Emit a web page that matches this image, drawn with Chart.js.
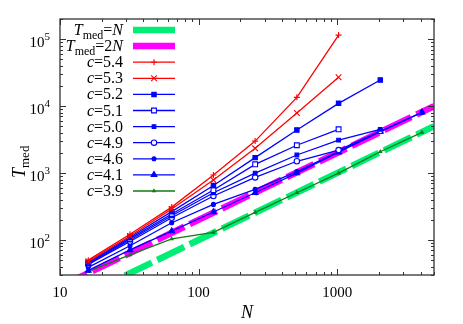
<!DOCTYPE html>
<html>
<head>
<meta charset="utf-8">
<script src="https://cdn.jsdelivr.net/npm/chart.js@4.4.1/dist/chart.umd.min.js"></script>
<style>
  html, body { margin: 0; padding: 0; background: #ffffff; }
  #grafico { display: block; }
</style>
</head>
<body>
<canvas id="grafico" width="463" height="324"></canvas>
<script>
// Tamaños del sistema (eje x) y tiempos medianos de cada curva
const tamanos = [16, 32, 64, 128, 256, 512, 1024, 2048, 4096];
const valoresC = ['5.4', '5.3', '5.2', '5.1', '5.0', '4.9', '4.6', '4.1', '3.9'];
const tMed54 = [50, 122, 310, 935, 3000, 13500, 115000];
const tMed53 = [48, 115, 290, 785, 2340, 7900, 27000];
const tMed52 = [46, 110, 265, 650, 1700, 4400, 11000, 24500];
const tMed51 = [45, 105, 245, 557, 1350, 2600, 4500];
const tMed50 = [44, 100, 230, 508, 1000, 1860, 3100, 4500];
const tMed49 = [43, 95, 215, 454, 860, 1500, 2200, 4250];
const tMed46 = [39, 82, 181, 340, 571, 1050, 2100, 4200, 8100];
const tMed41 = [35, 71, 136, 262, 508, 1000, 2050, 4150, 8050];
const tMed39 = [34, 60, 104, 130, 259, 508, 1000, 2080, 4050];

// Rangos y marcas de los ejes
const rangoN = [10, 5000];
const rangoT = [30, 200000];
const ticksN = [10, 100, 1000];
const ticksT = [100, 1000, 10000, 100000];

const serie = (valores) => valores.map((t, i) => ({ x: tamanos[i], y: t }));
const recta = (factor) => rangoN.map(n => ({ x: n, y: factor * n }));

const serif = '"Liberation Serif", "Times New Roman", serif';
const rojo = '#ff0000';
const azul = '#0000ff';

// estilo de cada curva medida, en el mismo orden que valoresC
const estilos = [
    { datos: tMed54, color: rojo, punto: 'cross', radio: 3.0, relleno: rojo },
    { datos: tMed53, color: rojo, punto: 'crossRot', radio: 4.0, relleno: rojo },
    { datos: tMed52, color: azul, punto: 'rect', radio: 3.1, relleno: azul },
    { datos: tMed51, color: azul, punto: 'rect', radio: 3.4, relleno: '#ffffff' },
    { datos: tMed50, color: azul, punto: 'rect', radio: 2.6, relleno: azul },
    { datos: tMed49, color: azul, punto: 'circle', radio: 2.7, relleno: '#ffffff' },
    { datos: tMed46, color: azul, punto: 'circle', radio: 2.0, relleno: azul },
    { datos: tMed41, color: azul, punto: 'triangle', radio: 3.3, relleno: azul },
    { datos: tMed39, color: '#127a12', punto: 'triangle', radio: 1.6, relleno: '#127a12' }
];

const datasets = [
    {
        label: 'T=N', data: recta(1), borderColor: '#00ee76', borderWidth: 6.5,
        borderDash: [30, 6], pointRadius: 0, order: 10, clip: 0
    },
    {
        label: 'T=2N', data: recta(2), borderColor: '#ff00ff', borderWidth: 6.5,
        borderDash: [30, 6], pointRadius: 0, order: 9, clip: 0
    }
];
estilos.forEach((e, i) => {
    datasets.push({
        label: 'c=' + valoresC[i],
        data: serie(e.datos),
        borderColor: e.color,
        borderWidth: 1.3,
        pointStyle: e.punto,
        pointRadius: e.radio,
        pointBorderWidth: 1.1,
        pointBorderColor: e.color,
        pointBackgroundColor: e.relleno,
        order: i,
        clip: 0
    });
});

// dibuja trozos de texto con cursivas, subíndices y superíndices
function anchoTrozos(ctx, trozos) {
    return trozos.reduce((suma, t) => {
        ctx.font = t.fuente;
        return suma + ctx.measureText(t.texto).width;
    }, 0);
}
function dibujarTrozos(ctx, trozos, x, y) {
    trozos.forEach(t => {
        ctx.font = t.fuente;
        ctx.fillText(t.texto, x, y + (t.dy || 0));
        x += ctx.measureText(t.texto).width;
    });
}

const fLeyenda = '16px ' + serif;
const fLeyendaIt = 'italic 16px ' + serif;
const fSub = '12px ' + serif;

const marcos = {
    id: 'marcos',
    afterDraw(chart) {
        const ctx = chart.ctx;
        const a = chart.chartArea;
        const ex = chart.scales.x;
        const ey = chart.scales.y;
        ctx.save();
        ctx.fillStyle = '#000000';
        ctx.strokeStyle = '#333333';
        ctx.lineWidth = 1;

        // marcas menores y mayores hacia dentro, en los cuatro lados
        ctx.beginPath();
        for (let dec = 1; dec <= 1000; dec *= 10) {
            for (let m = 1; m <= 9; m++) {
                const v = m * dec;
                if (v < rangoN[0] || v > rangoN[1]) continue;
                const px = Math.round(ex.getPixelForValue(v)) + 0.5;
                const largo = m === 1 ? 6 : 3;
                ctx.moveTo(px, a.bottom); ctx.lineTo(px, a.bottom - largo);
                ctx.moveTo(px, a.top); ctx.lineTo(px, a.top + largo);
            }
        }
        for (let dec = 10; dec <= 100000; dec *= 10) {
            for (let m = 1; m <= 9; m++) {
                const v = m * dec;
                if (v < rangoT[0] || v > rangoT[1]) continue;
                const py = Math.round(ey.getPixelForValue(v)) + 0.5;
                const largo = m === 1 ? 6 : 3;
                ctx.moveTo(a.left, py); ctx.lineTo(a.left + largo, py);
                ctx.moveTo(a.right, py); ctx.lineTo(a.right - largo, py);
            }
        }
        ctx.stroke();

        ctx.lineWidth = 1.3;
        ctx.strokeRect(a.left, a.top, a.right - a.left, a.bottom - a.top);

        // etiquetas del eje x
        ctx.textBaseline = 'alphabetic';
        ctx.textAlign = 'center';
        ctx.font = '15px ' + serif;
        ticksN.forEach(n => {
            ctx.fillText(String(n), ex.getPixelForValue(n), a.bottom + 22);
        });

        // etiquetas del eje y: 10 con exponente
        ctx.textAlign = 'left';
        ticksT.forEach(t => {
            const py = ey.getPixelForValue(t);
            const trozos = [
                { texto: '10', fuente: '15px ' + serif },
                { texto: String(Math.round(Math.log10(t))), fuente: '11px ' + serif, dy: -7 }
            ];
            const w = anchoTrozos(ctx, trozos);
            dibujarTrozos(ctx, trozos, 50 - w, py + 8);
        });

        // títulos de los ejes
        ctx.textAlign = 'center';
        ctx.font = 'italic 18px ' + serif;
        ctx.fillText('N', (a.left + a.right) / 2 + 0, 318);

        ctx.save();
        ctx.translate(25, 178);
        ctx.rotate(-Math.PI / 2);
        ctx.textAlign = 'left';
        dibujarTrozos(ctx, [
            { texto: 'T', fuente: 'italic 18px ' + serif },
            { texto: 'med', fuente: '13px ' + serif, dy: 4 }
        ], 0, 0);
        ctx.restore();

        // leyenda estilo gnuplot: texto alineado a la derecha y muestra de línea
        ctx.textAlign = 'left';
        const filas = chart.data.datasets.map(ds => {
            if (ds.label === 'T=N' || ds.label === 'T=2N') {
                return [
                    { texto: 'T', fuente: fLeyendaIt },
                    { texto: 'med', fuente: fSub, dy: 4 },
                    { texto: '=' + (ds.label === 'T=2N' ? '2' : ''), fuente: fLeyenda },
                    { texto: 'N', fuente: fLeyendaIt }
                ];
            }
            return [
                { texto: 'c', fuente: fLeyendaIt },
                { texto: ds.label.slice(1), fuente: fLeyenda }
            ];
        });
        filas.forEach((trozos, i) => {
            const ds = chart.data.datasets[i];
            const y = 30 + 16.1 * i;
            ctx.fillStyle = '#000000';
            const w = anchoTrozos(ctx, trozos);
            dibujarTrozos(ctx, trozos, 123 - w, y + 5);

            ctx.strokeStyle = ds.borderColor;
            ctx.lineWidth = ds.borderWidth;
            ctx.setLineDash([]);
            ctx.beginPath();
            ctx.moveTo(133, y);
            ctx.lineTo(175, y);
            ctx.stroke();
            if (ds.pointRadius > 0) {
                ctx.fillStyle = ds.pointBackgroundColor;
                ctx.strokeStyle = ds.pointBorderColor;
                ctx.lineWidth = ds.pointBorderWidth;
                Chart.helpers.drawPoint(ctx, {
                    pointStyle: ds.pointStyle, radius: ds.pointRadius,
                    borderWidth: ds.pointBorderWidth, rotation: 0
                }, 154, y);
            }
        });
        ctx.restore();
    }
};

new Chart(document.getElementById('grafico'), {
    type: 'line',
    data: { datasets },
    options: {
        responsive: false,
        animation: false,
        layout: { padding: { left: 60, right: 29, top: 19, bottom: 49 } },
        plugins: { legend: { display: false }, tooltip: { enabled: false } },
        elements: { line: { tension: 0 } },
        scales: {
            x: { type: 'logarithmic', min: rangoN[0], max: rangoN[1], display: false },
            y: { type: 'logarithmic', min: rangoT[0], max: rangoT[1], display: false }
        }
    },
    plugins: [marcos]
});
</script>
</body>
</html>
